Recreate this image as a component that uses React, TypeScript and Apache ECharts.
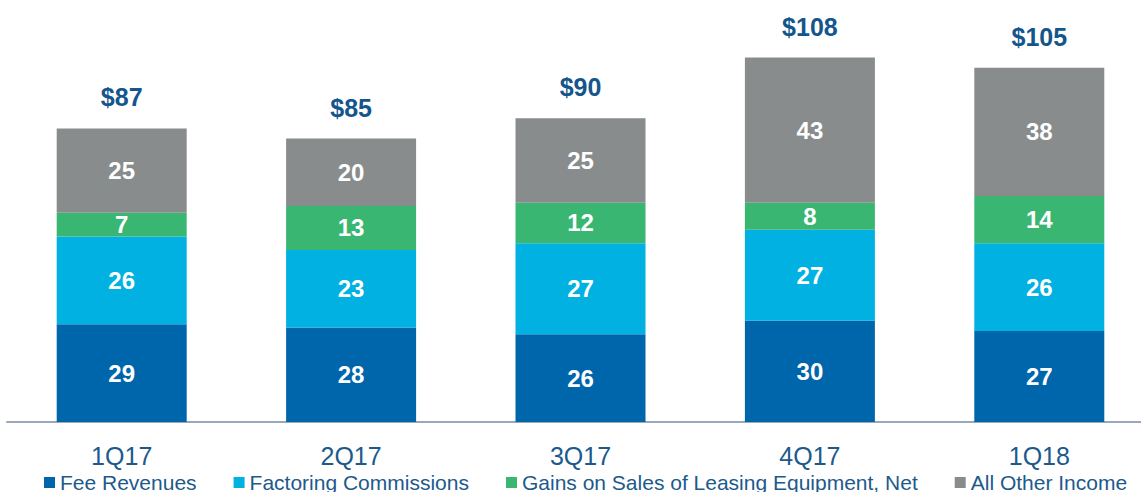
import React, { useEffect, useRef } from "react";
import * as echarts from "echarts";

const categories = ["1Q17", "2Q17", "3Q17", "4Q17", "1Q18"];
const feeRevenues = [29, 28, 26, 30, 27];
const factoringCommissions = [26, 23, 27, 27, 26];
const gainsOnSales = [7, 13, 12, 8, 14];
const allOtherIncome = [25, 20, 25, 43, 38];
const totals = [87, 85, 90, 108, 105];

const seriesNames = [
  "Fee Revenues",
  "Factoring Commissions",
  "Gains on Sales of Leasing Equipment, Net",
  "All Other Income",
];
const colors = ["#0066AC", "#00B1E1", "#3AB673", "#898C8C"];

export default function App() {
  const ref = useRef<HTMLDivElement>(null);
  useEffect(() => {
    document.body.style.margin = "0";
    const chart = echarts.init(ref.current!, null, { renderer: "svg" });
    const stackTops = categories.map(
      (_, i) => feeRevenues[i] + factoringCommissions[i] + gainsOnSales[i] + allOtherIncome[i]
    );
    const font = "'Liberation Sans', Arial, sans-serif";
    const segData = [feeRevenues, factoringCommissions, gainsOnSales, allOtherIncome];
    const barSeries = segData.map((d, k) => ({
      name: seriesNames[k],
      type: "bar",
      stack: "total",
      barWidth: 130,
      data: d,
      itemStyle: { color: colors[k] },
      emphasis: { disabled: true },
      label: {
        show: true,
        position: "inside",
        color: "#ffffff",
        fontSize: 24,
        fontWeight: "bold",
        fontFamily: font,
      },
    }));
    chart.setOption({
      animation: false,
      grid: { left: 7, top: 17, width: 1147, height: 405, containLabel: false },
      legend: {
        data: seriesNames,
        left: 44,
        top: 472,
        padding: 0,
        icon: "rect",
        itemWidth: 11,
        itemHeight: 11,
        itemGap: 37,
        textStyle: { fontSize: 21, color: "#1C5A8C", fontFamily: font },
      },
      xAxis: {
        type: "category",
        data: categories,
        axisLine: { lineStyle: { color: "#9AA8BA", width: 2 } },
        axisTick: { show: false },
        axisLabel: { fontSize: 25, color: "#1C5A8C", margin: 21, fontFamily: font },
      },
      yAxis: {
        type: "value",
        min: 0,
        max: 120,
        show: false,
        splitLine: { show: false },
      },
      series: [
        ...barSeries,
        {
          type: "scatter",
          data: stackTops,
          symbolSize: 1,
          itemStyle: { color: "rgba(0,0,0,0)", opacity: 1 },
          emphasis: { disabled: true },
          label: {
            show: true,
            position: "top",
            distance: 18,
            opacity: 1,
            formatter: (p: any) => "$" + totals[p.dataIndex],
            color: "#14568C",
            fontSize: 25,
            fontWeight: "bold",
            fontFamily: font,
          },
          z: 10,
        },
      ],
    });
    return () => chart.dispose();
  }, []);
  return (
    <div style={{ width: 1141, height: 492, overflow: "hidden", position: "relative" }}>
      <div ref={ref} style={{ width: 1180, height: 492 }} />
    </div>
  );
}
